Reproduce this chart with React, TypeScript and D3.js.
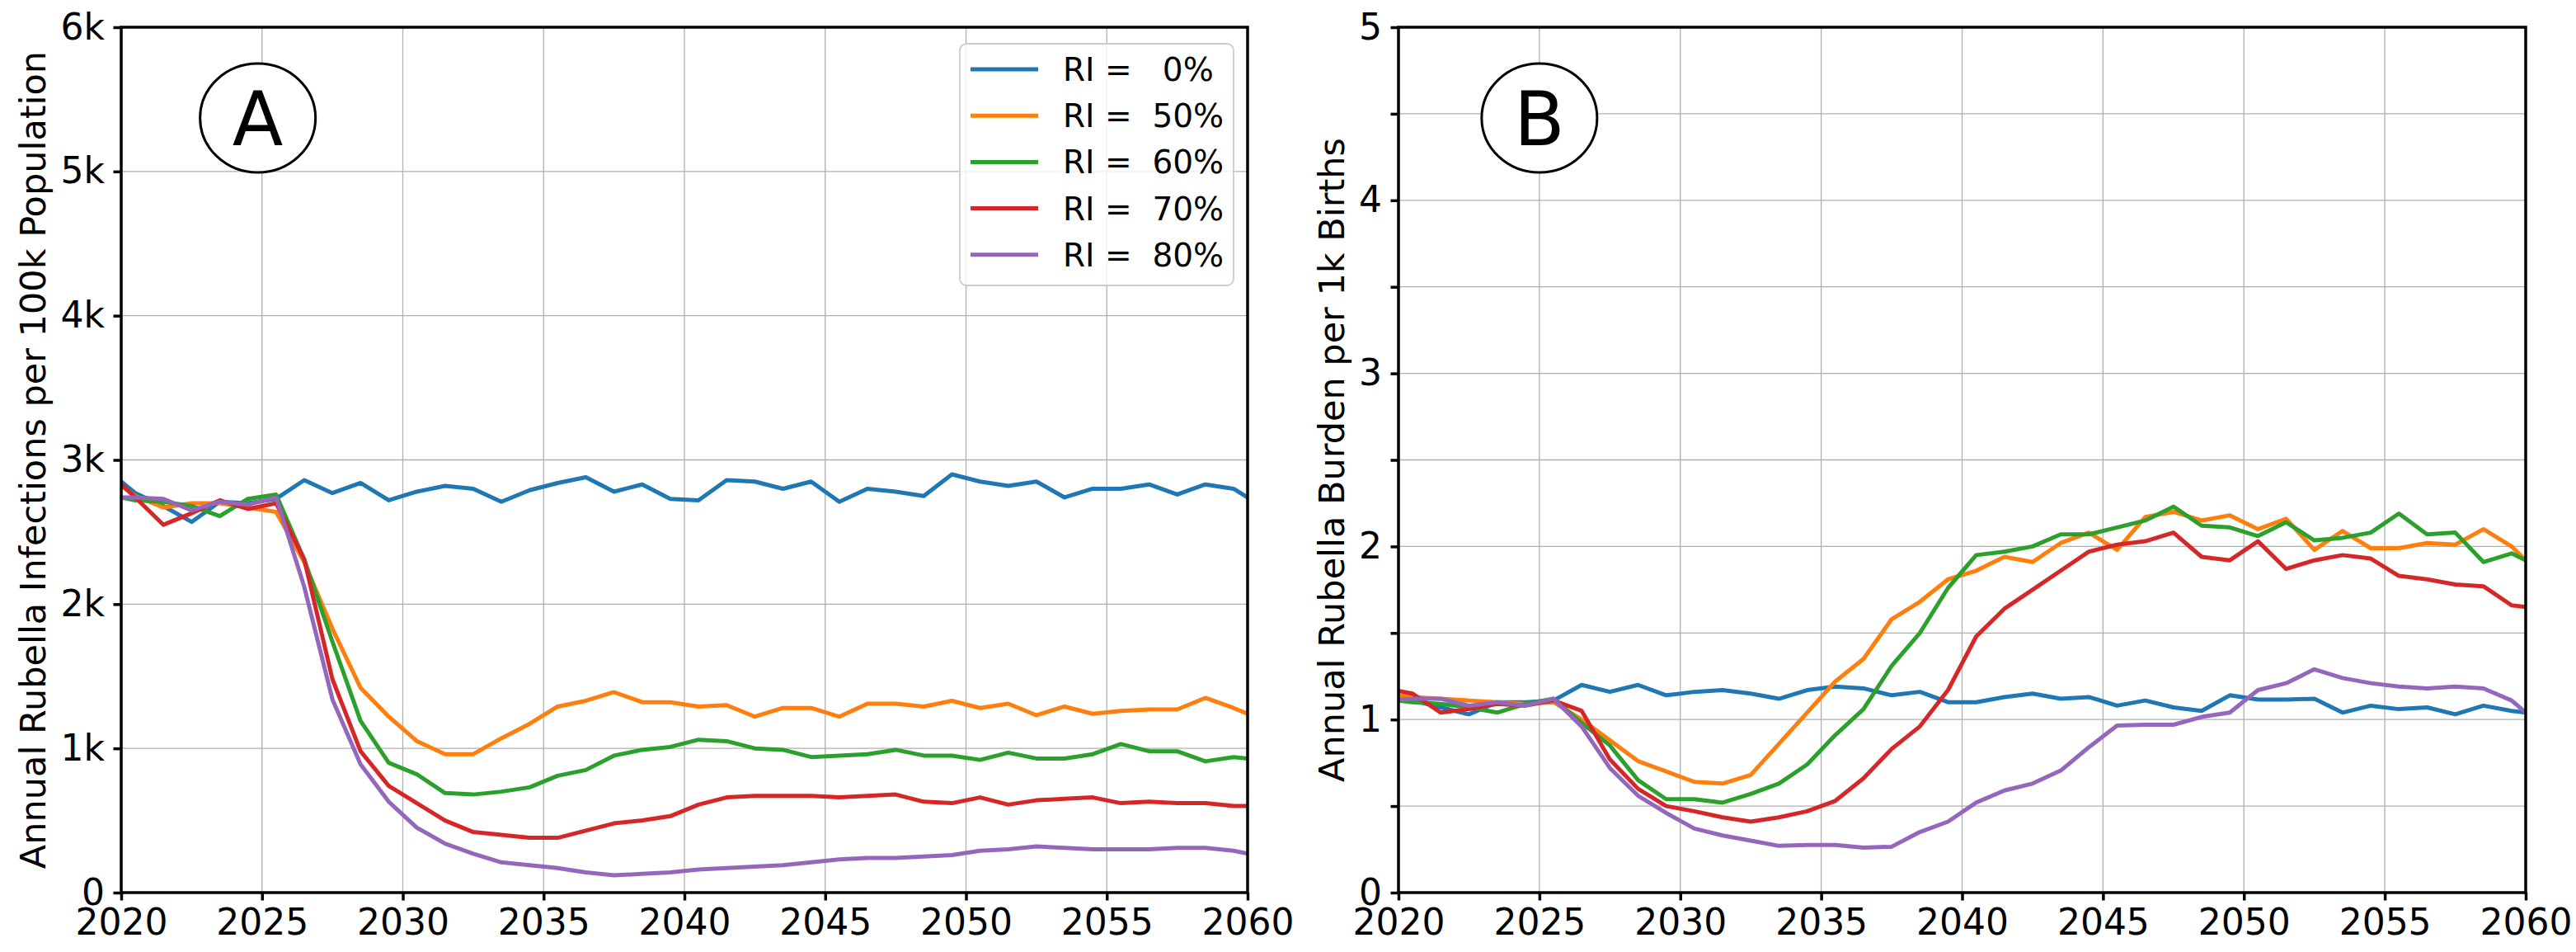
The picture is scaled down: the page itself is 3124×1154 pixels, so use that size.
import { useEffect, useRef } from "react";
import * as d3 from "d3";

// annual totals are plotted at mid-year; the first and last points fall outside the axis and get clipped
const years = [
  2019.5, 2020.5, 2021.5, 2022.5, 2023.5, 2024.5, 2025.5, 2026.5, 2027.5, 2028.5,
  2029.5, 2030.5, 2031.5, 2032.5, 2033.5, 2034.5, 2035.5, 2036.5, 2037.5, 2038.5,
  2039.5, 2040.5, 2041.5, 2042.5, 2043.5, 2044.5, 2045.5, 2046.5, 2047.5, 2048.5,
  2049.5, 2050.5, 2051.5, 2052.5, 2053.5, 2054.5, 2055.5, 2056.5, 2057.5, 2058.5,
  2059.5, 2060.5,
];

const riLevels = [0, 50, 60, 70, 80];
const riColors = ["#1f77b4", "#ff7f0e", "#2ca02c", "#d62728", "#9467bd"];

// panel A: annual infections per 100k population
const infRI0 = [
  2930, 2770, 2680, 2570, 2710, 2700, 2730, 2860, 2770, 2840,
  2720, 2780, 2820, 2800, 2710, 2790, 2840, 2880, 2780, 2830,
  2730, 2720, 2860, 2850, 2800, 2850, 2710, 2800, 2780, 2750,
  2900, 2850, 2820, 2850, 2740, 2800, 2800, 2830, 2760, 2830,
  2800, 2680,
];
const infRI50 = [
  2890, 2750, 2670, 2700, 2700, 2670, 2640, 2290, 1830, 1420,
  1220, 1050, 960, 960, 1070, 1170, 1290, 1330, 1390, 1320,
  1320, 1290, 1300, 1220, 1280, 1280, 1220, 1310, 1310, 1290,
  1330, 1280, 1310, 1230, 1290, 1240, 1260, 1270, 1270, 1350,
  1280, 1200,
];
const infRI60 = [
  2760, 2720, 2710, 2680, 2610, 2730, 2760, 2310, 1740, 1190,
  900, 820, 690, 680, 700, 730, 810, 850, 950, 990,
  1010, 1060, 1050, 1000, 990, 940, 950, 960, 990, 950,
  950, 920, 970, 930, 930, 960, 1030, 980, 980, 910,
  940, 920,
];
const infRI70 = [
  2920, 2740, 2550, 2630, 2720, 2660, 2700, 2310, 1480, 980,
  740, 620, 500, 420, 400, 380, 380, 430, 480, 500,
  530, 610, 660, 670, 670, 670, 660, 670, 680, 630,
  620, 660, 610, 640, 650, 660, 620, 630, 620, 620,
  600, 600,
];
const infRI80 = [
  2740, 2740, 2730, 2650, 2710, 2690, 2740, 2120, 1340, 890,
  630, 450, 340, 270, 210, 190, 170, 140, 120, 130,
  140, 160, 170, 180, 190, 210, 230, 240, 240, 250,
  260, 290, 300, 320, 310, 300, 300, 300, 310, 310,
  290, 250,
];

// panel B: annual burden per 1k births
const burRI0 = [
  1.12, 1.11, 1.07, 1.03, 1.1, 1.1, 1.11, 1.2, 1.16, 1.2,
  1.14, 1.16, 1.17, 1.15, 1.12, 1.17, 1.19, 1.18, 1.14, 1.16,
  1.1, 1.1, 1.13, 1.15, 1.12, 1.13, 1.08, 1.11, 1.07, 1.05,
  1.14, 1.115, 1.115, 1.12, 1.04, 1.08, 1.06, 1.07, 1.03, 1.08,
  1.05, 1.03,
];
const burRI50 = [
  1.15, 1.13, 1.12, 1.11, 1.1, 1.09, 1.1, 1.0, 0.88, 0.76,
  0.7, 0.64, 0.63, 0.68, 0.86, 1.04, 1.22, 1.35, 1.58, 1.68,
  1.81, 1.86, 1.94, 1.91, 2.02, 2.08, 1.98, 2.17, 2.2, 2.15,
  2.18, 2.1, 2.16, 1.98, 2.09, 1.99, 1.99, 2.02, 2.01, 2.1,
  2.0, 1.84,
];
const burRI60 = [
  1.12, 1.1, 1.09, 1.07, 1.04, 1.09, 1.12, 0.98, 0.85, 0.65,
  0.54, 0.54, 0.52, 0.57, 0.63, 0.74, 0.91, 1.06, 1.31, 1.5,
  1.76, 1.95, 1.97, 2.0, 2.07, 2.07, 2.11, 2.15, 2.23, 2.12,
  2.11, 2.06, 2.14, 2.035, 2.05, 2.08, 2.19, 2.07, 2.08, 1.91,
  1.96, 1.88,
];
const burRI70 = [
  1.18, 1.15, 1.04, 1.06, 1.09, 1.08, 1.11, 1.05, 0.77, 0.6,
  0.5, 0.47, 0.435, 0.41, 0.435, 0.47, 0.53, 0.66, 0.83, 0.96,
  1.17, 1.48, 1.64, 1.75, 1.86, 1.97, 2.01, 2.03, 2.08, 1.94,
  1.92, 2.03, 1.87, 1.92, 1.95, 1.93, 1.83, 1.81, 1.78, 1.77,
  1.66, 1.64,
];
const burRI80 = [
  1.11, 1.12, 1.12, 1.08, 1.1, 1.08, 1.12, 0.96, 0.72, 0.56,
  0.46, 0.37, 0.33, 0.3, 0.27, 0.275, 0.275, 0.26, 0.265, 0.35,
  0.41, 0.52, 0.59, 0.63, 0.705, 0.84, 0.965, 0.97, 0.97, 1.015,
  1.04, 1.17, 1.21, 1.29, 1.24, 1.21, 1.19, 1.18, 1.19, 1.18,
  1.11, 0.97,
];

const xTicks = [2020, 2025, 2030, 2035, 2040, 2045, 2050, 2055, 2060];
const infTicks = [0, 1000, 2000, 3000, 4000, 5000, 6000];
const burTicks = [0, 0.5, 1, 1.5, 2, 2.5, 3, 3.5, 4, 4.5, 5];

const W = 3124;
const H = 1154;
const FONT = "DejaVu Sans, sans-serif";

interface Panel {
  id: string;
  left: number;
  right: number;
  yMax: number;
  yTicks: number[];
  fmt: (d: number) => string;
  series: number[][];
  yLabel: string;
  yLabelX: number;
  letter: string;
  letterX: number;
  legend: boolean;
}

const panels: Panel[] = [
  {
    id: "A",
    left: 147,
    right: 1513,
    yMax: 6000,
    yTicks: infTicks,
    fmt: (d) => (d === 0 ? "0" : `${d / 1000}k`),
    series: [infRI0, infRI50, infRI60, infRI70, infRI80],
    yLabel: "Annual Rubella Infections per 100k Population",
    yLabelX: 55,
    letter: "A",
    letterX: 2024.85,
    legend: true,
  },
  {
    id: "B",
    left: 1696,
    right: 3063,
    yMax: 5,
    yTicks: burTicks,
    fmt: (d) => (Number.isInteger(d) ? String(d) : ""),
    series: [burRI0, burRI50, burRI60, burRI70, burRI80],
    yLabel: "Annual Rubella Burden per 1k Births",
    yLabelX: 1630,
    letter: "B",
    letterX: 2025,
    legend: false,
  },
];

const App = () => {
  const svgRef = useRef<SVGSVGElement>(null);

  useEffect(() => {
    if (!svgRef.current) return;
    const svg = d3.select(svgRef.current);
    svg.selectAll("*").remove();

    const top = 33;
    const bottom = 1082;

    panels.forEach((p) => {
      const x = d3.scaleLinear().domain([2020, 2060]).range([p.left, p.right]);
      const y = d3.scaleLinear().domain([0, p.yMax]).range([bottom, top]);
      const g = svg.append("g");

      // grid
      g.append("g")
        .selectAll("line")
        .data(xTicks)
        .join("line")
        .attr("x1", (d) => x(d))
        .attr("x2", (d) => x(d))
        .attr("y1", top)
        .attr("y2", bottom)
        .attr("stroke", "#b0b0b0")
        .attr("stroke-width", 1.3);
      g.append("g")
        .selectAll("line")
        .data(p.yTicks)
        .join("line")
        .attr("x1", p.left)
        .attr("x2", p.right)
        .attr("y1", (d) => y(d))
        .attr("y2", (d) => y(d))
        .attr("stroke", "#b0b0b0")
        .attr("stroke-width", 1.3);

      // lines
      g.append("clipPath")
        .attr("id", `clip-${p.id}`)
        .append("rect")
        .attr("x", p.left)
        .attr("y", top)
        .attr("width", p.right - p.left)
        .attr("height", bottom - top);

      const line = d3
        .line<number>()
        .x((_, i) => x(years[i]))
        .y((d) => y(d));

      g.append("g")
        .attr("clip-path", `url(#clip-${p.id})`)
        .selectAll("path")
        .data(p.series)
        .join("path")
        .attr("d", (d) => line(d))
        .attr("fill", "none")
        .attr("stroke", (_, i) => riColors[i])
        .attr("stroke-width", 5)
        .attr("stroke-linejoin", "round");

      // axes
      const xAxis = g
        .append("g")
        .attr("transform", `translate(0,${bottom})`)
        .call(
          d3
            .axisBottom(x)
            .tickValues(xTicks)
            .tickSize(9.5)
            .tickPadding(10.5)
            .tickFormat(d3.format("d"))
        );
      const yAxis = g
        .append("g")
        .attr("transform", `translate(${p.left},0)`)
        .call(
          d3
            .axisLeft(y)
            .tickValues(p.yTicks)
            .tickSize(9.5)
            .tickPadding(10.5)
            .tickFormat((d) => p.fmt(d as number))
        );
      [xAxis, yAxis].forEach((a) => {
        a.select(".domain").remove();
        a.attr("font-family", FONT).attr("font-size", 44);
        a.selectAll("line").attr("stroke", "#000").attr("stroke-width", 3.5);
        a.selectAll("text").attr("fill", "#000");
      });

      // frame
      g.append("rect")
        .attr("x", p.left)
        .attr("y", top)
        .attr("width", p.right - p.left)
        .attr("height", bottom - top)
        .attr("fill", "none")
        .attr("stroke", "#000")
        .attr("stroke-width", 3.5);

      // y label
      g.append("text")
        .attr("transform", `translate(${p.yLabelX},${(top + bottom) / 2}) rotate(-90)`)
        .attr("text-anchor", "middle")
        .attr("font-family", FONT)
        .attr("font-size", 43)
        .text(p.yLabel);

      // panel letter
      const cx = x(p.letterX);
      const cy = 143;
      g.append("ellipse")
        .attr("cx", cx)
        .attr("cy", cy)
        .attr("rx", 70)
        .attr("ry", 66)
        .attr("fill", "#fff")
        .attr("stroke", "#000")
        .attr("stroke-width", 3);
      g.append("text")
        .attr("x", cx)
        .attr("y", cy + 33)
        .attr("text-anchor", "middle")
        .attr("font-family", FONT)
        .attr("font-size", 90)
        .text(p.letter);

      // legend
      if (p.legend) {
        const lg = g.append("g");
        lg.append("rect")
          .attr("x", 1164)
          .attr("y", 53)
          .attr("width", 332)
          .attr("height", 293)
          .attr("rx", 8)
          .attr("fill", "#fff")
          .attr("fill-opacity", 0.8)
          .attr("stroke", "#cccccc")
          .attr("stroke-width", 1.8);
        const rows = lg
          .selectAll("g.row")
          .data(riLevels)
          .join("g")
          .attr("class", "row")
          .attr("transform", (_, i) => `translate(1177,${84 + i * 56.2})`);
        rows
          .append("line")
          .attr("x1", 0)
          .attr("x2", 82)
          .attr("stroke", (_, i) => riColors[i])
          .attr("stroke-width", 5);
        rows
          .append("text")
          .attr("x", 112)
          .attr("y", 14)
          .attr("font-family", FONT)
          .attr("font-size", 39)
          .style("white-space", "pre")
          .text((d) => `RI = ${String(d).padStart(3, " ")}%`);
      }
    });
  }, []);

  return (
    <svg
      ref={svgRef}
      width={W}
      height={H}
      style={{ position: "absolute", left: 0, top: 0, background: "#fff", display: "block" }}
    ></svg>
  );
};

export default App;
